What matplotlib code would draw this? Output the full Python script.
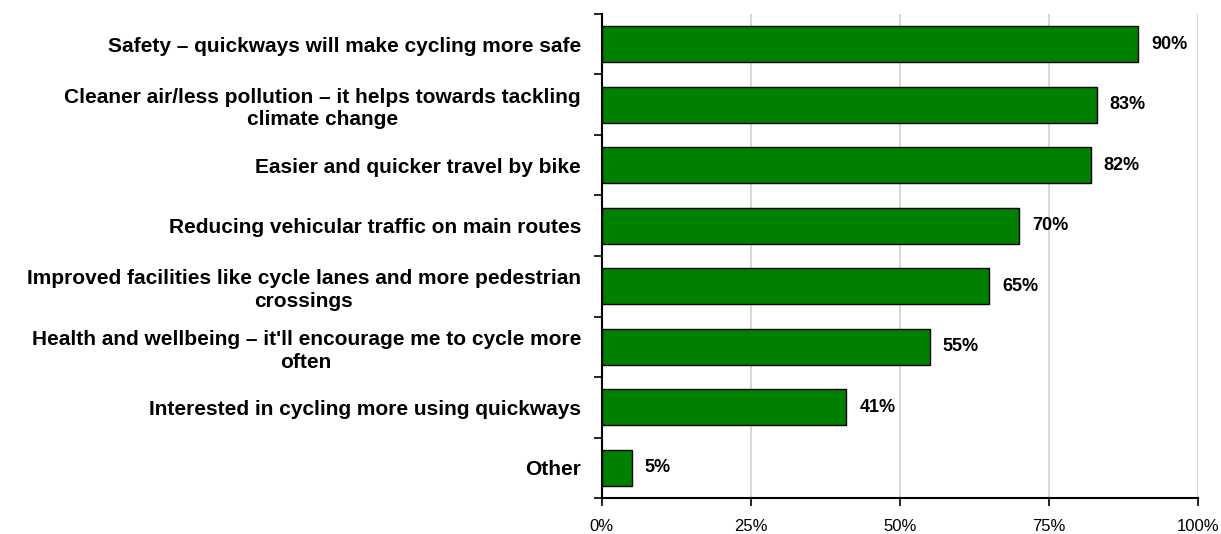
import matplotlib.pyplot as plt
from matplotlib.ticker import FixedLocator, FuncFormatter

categories = [
    "Safety \u2013 quickways will make cycling more safe",
    "Cleaner air/less pollution \u2013 it helps towards tackling\nclimate change",
    "Easier and quicker travel by bike",
    "Reducing vehicular traffic on main routes",
    "Improved facilities like cycle lanes and more pedestrian\ncrossings",
    "Health and wellbeing \u2013 it'll encourage me to cycle more\noften",
    "Interested in cycling more using quickways",
    "Other",
]
values = [90, 83, 82, 70, 65, 55, 41, 5]
xticks = [0, 25, 50, 75, 100]

plt.rcParams['font.family'] = ['Liberation Sans', 'DejaVu Sans']

fig = plt.figure(figsize=(12.21, 5.34), dpi=100)
ax = fig.add_axes([0.4928, 0.0674, 0.4884, 0.9064])

n = len(categories)
ypos = list(range(n))
ax.barh(ypos, values, height=0.6, color='#008000', edgecolor='black', linewidth=1, zorder=3)

for y, v in zip(ypos, values):
    ax.text(v + 2.2, y, f"{v}%", va='center', ha='left', fontsize=13, fontweight='bold')

ax.set_xlim(0, 100)
ax.set_ylim(n - 0.5, -0.5)

# category labels at centres, boundary ticks as minor
ax.set_yticks(ypos)
ax.set_yticklabels(categories, fontsize=15, fontweight='bold', multialignment='center',
                   linespacing=1.25)
ax.tick_params(axis='y', which='major', length=0, pad=15)
ax.yaxis.set_minor_locator(FixedLocator([i - 0.5 for i in range(n + 1)]))
ax.tick_params(axis='y', which='minor', length=6, width=1.2, direction='out')

ax.set_xticks(xticks)
ax.xaxis.set_major_formatter(FuncFormatter(lambda x, p: f"{int(x)}%"))
ax.tick_params(axis='x', length=6, width=1.2, labelsize=12, pad=9)

ax.grid(axis='x', color='#d0d0d0', linewidth=1.2, zorder=0)
for s in ['top', 'right']:
    ax.spines[s].set_visible(False)
for s in ['left', 'bottom']:
    ax.spines[s].set_linewidth(1.5)
    ax.spines[s].set_zorder(4)

fig.savefig('out.png', dpi=100)
